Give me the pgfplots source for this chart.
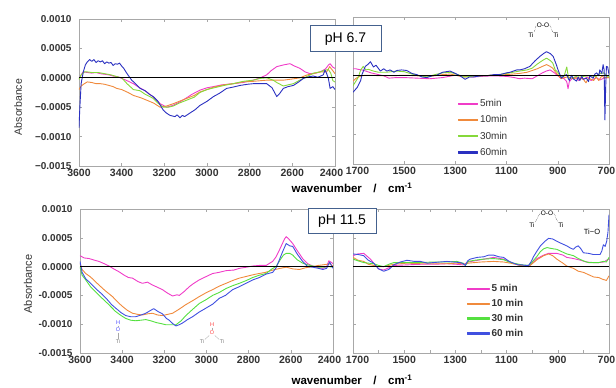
\documentclass[border=0pt]{standalone}
\usepackage{pgfplots}
\pgfplotsset{compat=1.18}
\usepackage{fontspec}
\setmainfont{Liberation Sans}
\definecolor{cmag}{HTML}{F03CC8}
\definecolor{corg}{HTML}{F08A3C}
\definecolor{cgrn}{HTML}{86D83A}
\definecolor{cgrn2}{HTML}{55E040}
\definecolor{cblu}{HTML}{2A30C0}
\definecolor{cblu2}{HTML}{4050E0}
\definecolor{framec}{HTML}{A8A8A8}
\definecolor{boxc}{HTML}{44618E}
\definecolor{tickc}{HTML}{333333}
\pgfplotsset{
  base/.style={
    scale only axis, anchor=south west, ymin=-0.0015, ymax=0.0010, x dir=reverse,
    axis line style={framec, line width=0.8pt}, tick style={framec, line width=0.6pt},
    tick align=inside, major tick length=3pt, minor tick length=3pt,
    ytick={-0.0015,-0.001,-0.0005,0,0.0005,0.001},
    scaled y ticks=false, scaled x ticks=false,
    xticklabel style={font=\fontsize{10.5}{11}\selectfont\bfseries, text=tickc},
    yticklabel style={font=\fontsize{10}{11}\selectfont\bfseries, text=tickc, xshift=-4pt},
    every axis plot/.append style={line width=0.9pt, line join=round, mark=none},
  },
  leftax/.style={base, xmin=2400, xmax=3600, xtick={2400,2600,2800,3000,3200,3400,3600},
    xticklabels={2400\hspace*{7pt},2600,2800,3000,3200,3400,3600}},
  rightax/.style={base, xmin=700, xmax=1700, xtick={700,900,1100,1300,1500,1700},
    xticklabels={700\hspace*{5pt},900,1100,1300,1500,\hspace*{9pt}1700}, yticklabels={}},
  zl/.style={black, line width=0.7pt, forget plot},
}
\begin{document}
\begin{tikzpicture}[x=1pt,y=1pt]
\path[use as bounding box] (0,0) rectangle (616,388);
% ---------------- top left ----------------
\begin{axis}[leftax, at={(79pt,222pt)}, width=256pt, height=147pt,
  yticklabels={\textminus0.0015,\textminus0.0010,\textminus0.0005,0.0000,0.0005,0.0010}]
\addplot[cmag] coordinates {(3600,-0.00002)(3590,0.00005)(3580,0.0001)(3560,0.00009)(3540,0.00008)(3520,0.00009)(3500,0.00007)(3480,0.00006)(3460,0.00005)(3440,0.00003)(3420,0.00002)(3400,-0.00001)(3380,-0.00004)(3345,-0.0001)(3320,-0.00016)(3300,-0.0002)(3283,-0.00024)(3250,-0.00033)(3220,-0.00044)(3189,-0.0005)(3160,-0.00047)(3127,-0.00041)(3100,-0.00035)(3070,-0.00028)(3033,-0.00021)(3000,-0.00017)(2970,-0.00015)(2930,-0.00012)(2877,-0.0001)(2830,-0.00008)(2783,-0.00004)(2750,0.0)(2720,0.00005)(2700,0.00012)(2673,0.00019)(2640,0.00022)(2611,0.00024)(2590,0.0002)(2564,0.00016)(2540,0.0001)(2517,0.00007)(2490,0.00008)(2470,0.0001)(2445,0.00015)(2430,0.00022)(2423,0.00024)(2410,0.00018)(2400,0.00016)};
\addplot[corg] coordinates {(3600,-0.0002)(3590,-0.00014)(3575,-0.0001)(3561,-0.00007)(3540,-0.00008)(3520,-0.0001)(3500,-0.0001)(3480,-0.00011)(3460,-0.00013)(3440,-0.00015)(3423,-0.00018)(3400,-0.0002)(3370,-0.00025)(3345,-0.0003)(3310,-0.00034)(3283,-0.00038)(3250,-0.00043)(3220,-0.0005)(3190,-0.00048)(3158,-0.00044)(3130,-0.0004)(3095,-0.00035)(3060,-0.0003)(3033,-0.00024)(3000,-0.0002)(2970,-0.00016)(2920,-0.00012)(2877,-0.0001)(2830,-0.00007)(2783,-0.00006)(2720,-0.00004)(2680,-0.00004)(2642,-0.00004)(2600,-0.00002)(2564,0.0)(2530,0.00005)(2502,0.00007)(2470,0.0001)(2439,0.0001)(2425,0.00019)(2410,0.00012)(2400,0.00007)};
\addplot[cgrn] coordinates {(3600,-0.00003)(3590,0.00005)(3575,0.0001)(3561,0.0001)(3540,0.00009)(3510,0.00009)(3480,0.00007)(3450,0.00005)(3423,0.00002)(3400,0.0)(3375,-0.0001)(3345,-0.0002)(3314,-0.00022)(3290,-0.00028)(3252,-0.00035)(3230,-0.00043)(3205,-0.0005)(3180,-0.0005)(3158,-0.00048)(3130,-0.00043)(3095,-0.00038)(3060,-0.00033)(3033,-0.00025)(3000,-0.0002)(2955,-0.00016)(2920,-0.00013)(2877,-0.0001)(2830,-0.00006)(2783,-0.00004)(2750,-0.00001)(2720,0.0)(2690,-0.00004)(2673,-0.00008)(2642,-0.00014)(2620,-0.00012)(2595,-0.0001)(2570,-0.00005)(2533,0.00002)(2500,0.00008)(2470,0.0001)(2447,0.00013)(2431,0.00014)(2420,0.00008)(2410,-0.00005)(2400,-0.00007)};
\addplot[cblu] coordinates {(3600,-0.00085)(3596,-0.0005)(3590,-0.0001)(3580,0.0001)(3570,0.00022)(3561,0.00027)(3550,0.00031)(3540,0.00028)(3530,0.00031)(3520,0.00026)(3510,0.00029)(3500,0.00027)(3490,0.00029)(3480,0.00024)(3470,0.00027)(3460,0.00025)(3450,0.00026)(3440,0.00021)(3430,0.00024)(3420,0.00023)(3410,0.00025)(3400,0.00020)(3390,0.00016)(3380,0.00010)(3365,0.00002)(3353,-0.00004)(3335,-0.0001)(3314,-0.00018)(3290,-0.00022)(3270,-0.00028)(3252,-0.00032)(3230,-0.0004)(3205,-0.00055)(3190,-0.0006)(3173,-0.00064)(3150,-0.00066)(3140,-0.00063)(3127,-0.00068)(3115,-0.00064)(3105,-0.00066)(3080,-0.0006)(3055,-0.00054)(3033,-0.00047)(3000,-0.0004)(2970,-0.00032)(2940,-0.00026)(2908,-0.00018)(2880,-0.00016)(2845,-0.00013)(2810,-0.00011)(2783,-0.0001)(2750,-0.0001)(2720,-0.0001)(2695,-0.00017)(2673,-0.00032)(2660,-0.00027)(2642,-0.00018)(2620,-0.00015)(2595,-0.00013)(2570,-0.00007)(2548,-0.00001)(2520,0.00002)(2502,0.00003)(2480,0.00001)(2455,0.00005)(2447,0.00013)(2440,0.00008)(2431,-0.00001)(2423,-0.00018)(2410,-0.00015)(2400,-0.0002)};
\addplot[zl] coordinates {(2400,0)(3600,0)};
\end{axis}
% ---------------- top right ----------------
\begin{axis}[rightax, at={(353pt,224pt)}, width=256pt, height=147pt,
  legend image code/.code={\fill[#1] (0pt,-0.7pt) rectangle (19pt,0.7pt);},
  legend style={at={(0.41,0.455)}, anchor=north west, draw=none, fill=none, inner sep=0pt,
    font=\fontsize{10}{11}\selectfont, text=tickc, row sep=3.5pt},
  legend cell align=left]
\addplot[cmag] coordinates {(1700,0.00012)(1690,0.00012)(1680,0.00011)(1665,0.0001)(1650,0.00008)(1630,0.00005)(1610,0.00003)(1600,0.00002)(1580,0.0)(1560,-0.00004)(1530,-0.00003)(1500,-0.00003)(1450,-0.00004)(1400,-0.00005)(1350,-0.00003)(1300,0.00001)(1270,-0.00001)(1230,-0.00002)(1200,-0.00001)(1150,0.0)(1100,-0.00001)(1070,-0.00003)(1050,-0.00005)(1030,-0.00004)(1000,-0.00005)(980,0.0)(960,0.00005)(945,0.00008)(930,0.0001)(920,0.00007)(910,0.00004)(900,0.0)(890,-0.00003)(875,-0.00005)(865,-0.0001)(860,-0.00022)(855,-0.0001)(845,-0.00005)(830,-0.00002)(820,-0.00008)(810,-0.00003)(800,-0.00006)(785,-0.00002)(770,-0.00008)(750,-0.00003)(735,-0.00007)(720,-0.00004)(700,-0.00003)};
\addlegendentry{5min}
\addplot[corg] coordinates {(1700,-0.00009)(1690,-0.00005)(1680,-0.00002)(1665,0.0)(1650,0.00001)(1620,0.00001)(1600,0.0)(1550,0.0)(1500,0.00001)(1450,0.0)(1400,-0.00001)(1350,0.00002)(1320,0.00003)(1290,0.0)(1265,-0.00002)(1230,0.0)(1200,0.0)(1150,0.00001)(1100,0.00002)(1050,0.00004)(1020,0.00006)(1000,0.00009)(980,0.00012)(960,0.00016)(944,0.00019)(930,0.00016)(920,0.00013)(908,0.00006)(900,0.00002)(888,-0.00005)(875,-0.00003)(860,-0.00002)(840,-0.00005)(820,-0.00003)(800,-0.00006)(790,-0.00012)(780,-0.00004)(760,-0.00008)(750,-0.00002)(740,-0.00008)(728,0.0)(720,-0.00003)(700,-0.00003)};
\addlegendentry{10min}
\addplot[cgrn] coordinates {(1700,-0.00017)(1690,-0.0001)(1680,-0.00003)(1670,0.0001)(1660,0.00016)(1650,0.0001)(1640,0.00011)(1620,0.00008)(1600,0.00006)(1570,0.00006)(1530,0.00008)(1500,0.00007)(1470,0.00003)(1440,0.0)(1410,-0.00002)(1380,0.00002)(1350,0.00005)(1320,0.00006)(1290,0.00002)(1265,-0.00002)(1240,-0.00001)(1200,0.0)(1150,0.00001)(1100,0.00004)(1050,0.00008)(1020,0.0001)(1000,0.00013)(980,0.0002)(960,0.00026)(944,0.0003)(930,0.00026)(920,0.00022)(910,0.0001)(900,0.00006)(888,-0.00002)(875,0.0)(865,0.00015)(858,-0.00004)(840,-0.00003)(820,0.0)(800,-0.00001)(780,0.0)(750,-0.00001)(735,0.00004)(720,0.00005)(710,0.0)(700,-0.00002)};
\addlegendentry{30min}
\addplot[cblu] coordinates {(1700,-0.00028)(1684,-0.0002)(1670,-0.00008)(1665,0.00002)(1652,0.00016)(1640,0.0002)(1632,0.00024)(1620,0.00015)(1610,0.00018)(1593,0.00008)(1580,0.00012)(1568,0.00008)(1555,0.0001)(1540,0.00006)(1529,0.00009)(1510,0.0001)(1490,0.00009)(1470,0.00004)(1451,0.00002)(1430,-0.00002)(1412,-0.00003)(1390,0.0)(1373,0.00001)(1350,0.00006)(1321,0.00008)(1300,0.00004)(1282,0.0)(1262,-0.00006)(1245,-0.00002)(1230,-0.00002)(1200,0.0)(1178,0.0)(1150,0.00002)(1126,0.00002)(1100,0.00005)(1087,0.00006)(1060,0.0001)(1048,0.0001)(1030,0.00012)(1009,0.00016)(990,0.00025)(970,0.00033)(955,0.00038)(944,0.00041)(930,0.00038)(918,0.00033)(905,0.00018)(899,0.0001)(886,-0.00004)(876,0.0)(866,0.00002)(855,-0.00008)(846,0.00001)(840,-0.00005)(827,-0.00009)(820,-0.00002)(814,-0.00008)(806,-0.00001)(800,-0.00006)(788,-0.00004)(780,-0.0001)(775,0.0)(762,-0.00004)(755,0.00003)(748,0.00005)(740,0.0)(736,0.0001)(728,0.00004)(723,0.00019)(719,0.0001)(716,-0.00075)(713,-0.0002)(710,0.00016)(705,0.00015)(700,0.00002)};
\addlegendentry{60min}
\addplot[zl] coordinates {(700,0)(1700,0)};
\end{axis}
% ---------------- bottom left ----------------
\begin{axis}[leftax, at={(80pt,35pt)}, width=253pt, height=144pt,
  yticklabels={-0.0015,-0.0010,-0.0005,0.0000,0.0005,0.0010}]
\addplot[cmag] coordinates {(3600,0.00019)(3580,0.00015)(3557,0.00014)(3530,0.00011)(3510,0.00009)(3485,0.00005)(3462,0.00001)(3440,-0.00004)(3415,-0.00009)(3390,-0.00015)(3370,-0.00019)(3351,-0.0002)(3325,-0.00026)(3304,-0.00029)(3280,-0.00027)(3256,-0.00032)(3232,-0.00036)(3209,-0.0004)(3185,-0.00046)(3161,-0.00051)(3140,-0.00049)(3129,-0.0005)(3105,-0.00043)(3082,-0.00035)(3060,-0.00029)(3034,-0.00023)(3000,-0.00017)(2971,-0.00012)(2940,-0.0001)(2907,-0.00007)(2870,-0.00006)(2844,-0.00003)(2810,-0.00001)(2781,0.00001)(2750,0.00002)(2717,0.00002)(2700,0.00006)(2686,0.00009)(2670,0.00017)(2654,0.00029)(2640,0.0004)(2630,0.00048)(2622,0.00052)(2610,0.00048)(2591,0.0004)(2570,0.00028)(2544,0.00014)(2520,0.00005)(2496,0.00001)(2470,-0.00002)(2448,-0.00003)(2430,0.0)(2420,0.0001)(2410,0.00008)(2400,0.00005)};
\addplot[corg] coordinates {(3600,0.00005)(3590,-0.00005)(3573,-0.00012)(3550,-0.00018)(3510,-0.00032)(3480,-0.00042)(3446,-0.00052)(3420,-0.00062)(3399,-0.00069)(3375,-0.00076)(3351,-0.00081)(3325,-0.00083)(3304,-0.00084)(3280,-0.00082)(3256,-0.00081)(3232,-0.00084)(3209,-0.00085)(3185,-0.00083)(3161,-0.00081)(3130,-0.00074)(3098,-0.00066)(3065,-0.00059)(3034,-0.00052)(3000,-0.00045)(2971,-0.0004)(2940,-0.00034)(2907,-0.00029)(2875,-0.00024)(2844,-0.0002)(2800,-0.00016)(2765,-0.00013)(2720,-0.0001)(2686,-0.00006)(2650,-0.00003)(2622,-0.00001)(2590,-0.00004)(2559,-0.00005)(2530,-0.00002)(2496,0.0)(2470,0.00002)(2448,0.00003)(2430,0.00004)(2416,0.00005)(2400,0.00001)};
\addplot[cgrn2] coordinates {(3600,0.0)(3590,-0.00015)(3573,-0.00023)(3550,-0.00035)(3520,-0.00046)(3495,-0.00055)(3469,-0.00064)(3450,-0.00071)(3431,-0.00078)(3405,-0.00085)(3383,-0.0009)(3360,-0.00093)(3336,-0.00094)(3310,-0.00093)(3288,-0.00092)(3265,-0.00094)(3240,-0.00097)(3215,-0.00099)(3193,-0.00101)(3170,-0.00101)(3145,-0.00101)(3120,-0.00094)(3098,-0.00085)(3065,-0.00074)(3034,-0.00064)(3000,-0.00057)(2971,-0.0005)(2940,-0.00045)(2907,-0.00038)(2875,-0.00033)(2844,-0.00029)(2810,-0.00024)(2781,-0.00019)(2750,-0.00015)(2717,-0.00012)(2690,-0.00004)(2670,0.0)(2650,0.00012)(2635,0.0002)(2622,0.00023)(2605,0.00023)(2591,0.0002)(2570,0.00012)(2544,0.00006)(2520,0.00003)(2496,0.00001)(2470,-0.00001)(2448,-0.00001)(2420,0.0)(2400,-0.00001)};
\addplot[cblu2] coordinates {(3600,0.00009)(3590,-0.0001)(3573,-0.00021)(3550,-0.00029)(3520,-0.0004)(3495,-0.00048)(3469,-0.00058)(3450,-0.00066)(3431,-0.00072)(3405,-0.0008)(3383,-0.00085)(3360,-0.00087)(3336,-0.00087)(3310,-0.00084)(3288,-0.00081)(3265,-0.00076)(3250,-0.00073)(3230,-0.00078)(3209,-0.00082)(3190,-0.0009)(3177,-0.00093)(3160,-0.00099)(3145,-0.00103)(3130,-0.00101)(3114,-0.00098)(3090,-0.00092)(3066,-0.00087)(3035,-0.00079)(3002,-0.00072)(2970,-0.00065)(2939,-0.00055)(2910,-0.0005)(2876,-0.00040)(2845,-0.00035)(2812,-0.00029)(2780,-0.00023)(2749,-0.00019)(2717,-0.00013)(2686,-0.00010)(2670,-0.00002)(2654,0.00012)(2640,0.00025)(2622,0.0004)(2605,0.00036)(2591,0.00035)(2570,0.00022)(2544,0.00009)(2520,0.0)(2496,-0.00001)(2470,-0.00003)(2448,-0.00005)(2430,-0.00003)(2416,0.00008)(2405,0.0)(2400,-0.00003)};
\addplot[zl] coordinates {(2400,0)(3600,0)};
\end{axis}
% ---------------- bottom right ----------------
\begin{axis}[rightax, at={(353pt,35pt)}, width=256pt, height=144pt,
  minor xtick={800,1000,1200,1400,1600},
  legend image code/.code={\fill[#1] (0pt,-0.7pt) rectangle (22pt,0.7pt);},
  legend style={at={(0.443,0.49)}, anchor=north west, draw=none, fill=none, inner sep=0pt,
    font=\fontsize{10}{11}\selectfont\bfseries, text=tickc, row sep=2pt},
  legend cell align=left]
\addplot[cmag] coordinates {(1700,0.00019)(1680,0.00022)(1658,0.00023)(1645,0.00018)(1632,0.00013)(1619,0.00006)(1600,-0.00004)(1580,-0.00006)(1560,-0.00002)(1541,0.00002)(1489,0.00003)(1437,0.00004)(1385,0.00004)(1333,0.00005)(1295,0.00004)(1270,0.00003)(1250,0.00008)(1200,0.00012)(1151,0.00016)(1112,0.00013)(1090,0.00009)(1073,0.00005)(1040,0.00002)(1014,0.0)(1000,0.00006)(981,0.00014)(955,0.0002)(936,0.00023)(904,0.00023)(880,0.0002)(865,0.00016)(839,0.00014)(810,0.00011)(790,0.00008)(761,0.00007)(740,0.00007)(720,0.00008)(710,0.00011)(700,0.00013)};
\addlegendentry{5 min}
\addplot[corg] coordinates {(1700,0.00016)(1680,0.00011)(1658,0.00009)(1640,0.00004)(1619,0.00002)(1600,0.0)(1580,0.0)(1541,0.00004)(1489,0.00006)(1437,0.00005)(1385,0.00005)(1333,0.00005)(1295,0.00006)(1261,0.00004)(1250,0.00006)(1200,0.00008)(1151,0.00009)(1112,0.00008)(1073,0.00005)(1040,0.00001)(1014,0.0)(1000,0.00005)(981,0.00012)(955,0.00019)(936,0.00022)(920,0.00019)(904,0.00013)(880,0.00006)(865,0.00001)(839,-0.00003)(820,-0.00008)(800,-0.0001)(780,-0.00014)(760,-0.00018)(740,-0.00019)(725,-0.00022)(710,-0.00024)(700,-0.00016)};
\addlegendentry{10 min}
\addplot[cgrn2] coordinates {(1700,0.00013)(1680,0.0001)(1658,0.00007)(1640,0.00006)(1619,0.00005)(1600,0.00002)(1580,0.0)(1560,0.00004)(1541,0.00007)(1500,0.00007)(1437,0.00007)(1385,0.00008)(1333,0.00008)(1295,0.00009)(1270,0.00006)(1261,0.00002)(1250,0.00009)(1225,0.00011)(1190,0.00013)(1151,0.00014)(1112,0.00012)(1090,0.00008)(1073,0.00006)(1040,0.00003)(1014,0.00002)(1000,0.00008)(981,0.00018)(968,0.00026)(955,0.00031)(942,0.00033)(920,0.00031)(904,0.00030)(880,0.00025)(865,0.00022)(839,0.00019)(820,0.00014)(800,0.0001)(780,0.00007)(761,0.00007)(740,0.00007)(722,0.00009)(710,0.00008)(705,0.00012)(700,0.00016)};
\addlegendentry{30 min}
\addplot[cblu2] coordinates {(1700,0.00022)(1680,0.00021)(1658,0.00019)(1640,0.00011)(1619,0.00006)(1600,-0.00004)(1580,-0.00008)(1560,-0.00005)(1541,0.00003)(1515,0.00008)(1489,0.00011)(1460,0.00009)(1437,0.00009)(1410,0.00006)(1385,0.00007)(1360,0.00008)(1333,0.00009)(1310,0.00008)(1281,0.00007)(1270,0.00005)(1261,0.00002)(1252,0.0001)(1242,0.00013)(1215,0.00016)(1190,0.00017)(1170,0.0002)(1151,0.0002)(1130,0.00017)(1112,0.00016)(1090,0.00009)(1073,0.00006)(1055,0.00003)(1040,0.00003)(1025,0.00002)(1014,0.00002)(1005,0.00008)(994,0.00018)(980,0.00028)(968,0.00036)(950,0.00044)(936,0.00049)(920,0.00048)(904,0.00044)(885,0.0004)(865,0.00036)(850,0.00032)(839,0.0003)(830,0.00034)(820,0.00036)(810,0.00031)(800,0.00024)(780,0.00023)(761,0.00021)(745,0.00021)(735,0.00021)(728,0.00027)(722,0.00038)(715,0.00035)(709,0.00044)(704,0.0006)(700,0.0009)};
\addlegendentry{60 min}
\addplot[zl] coordinates {(700,0)(1700,0)};
\end{axis}
% ---------------- labels ----------------
\node[rotate=90, font=\fontsize{10.5}{11}\selectfont, text=tickc] at (18,281) {Absorbance};
\node[rotate=90, font=\fontsize{11}{12}\selectfont, text=tickc] at (28,104) {Absorbance};
\node[font=\fontsize{11.5}{12}\selectfont\bfseries, text=black] at (352,200) {wavenumber\quad/\quad cm\textsuperscript{-1}};
\node[font=\fontsize{11.5}{12}\selectfont\bfseries, text=black] at (352,8) {wavenumber\quad/\quad cm\textsuperscript{-1}};
\node[draw=boxc, line width=1pt, fill=white, minimum width=71pt, minimum height=26pt, inner sep=0pt, font=\fontsize{14}{15}\selectfont] at (345.5,349) {pH 6.7};
\node[draw=boxc, line width=1pt, fill=white, minimum width=68pt, minimum height=25pt, inner sep=0pt, font=\fontsize{14}{15}\selectfont] at (342,166.5) {pH 11.5};
% Ti-O-O-Ti
\begin{scope}[every node/.style={font=\fontsize{6.5}{7}\selectfont, inner sep=0.5pt}]
\node (a1) at (531,353) {Ti};
\node (a2) at (543,363) {O-O};
\node (a3) at (556,353) {Ti};
\draw[densely dotted, line width=0.4pt] (a1.north east) -- (a2.west);
\draw[densely dotted, line width=0.4pt] (a2.east) -- (a3.north west);
\node (b1) at (532,163) {Ti};
\node (b2) at (547,175) {O-O};
\node (b3) at (561,163) {Ti};
\draw[densely dotted, line width=0.4pt] (b1.north east) -- (b2.west);
\draw[densely dotted, line width=0.4pt] (b2.east) -- (b3.north west);
\end{scope}
\node[font=\fontsize{7.5}{8}\selectfont, inner sep=0pt] at (592,156) {Ti\textminus O};
% molecules bottom left
\begin{scope}[every node/.style={font=\fontsize{5.5}{6}\selectfont, inner sep=0.5pt}]
\node[text=blue!70] (h1) at (118,65) {H};
\node[text=blue!70] (o1) at (118,58) {O};
\node[text=gray] (t1) at (118,46) {Ti};
\draw[gray!70, line width=0.3pt] (h1) -- (o1);
\draw[gray!70, line width=0.3pt] (o1) -- (t1);
\node[text=red!75] (h2) at (212,63) {H};
\node[text=red!75] (o2) at (212,55) {O};
\node[text=gray] (t2) at (202,46) {Ti};
\node[text=gray] (t3) at (222,46) {Ti};
\draw[gray!70, line width=0.3pt] (h2) -- (o2);
\draw[gray!70, line width=0.3pt] (o2) -- (t2);
\draw[gray!70, line width=0.3pt] (o2) -- (t3);
\end{scope}
\end{tikzpicture}
\end{document}
